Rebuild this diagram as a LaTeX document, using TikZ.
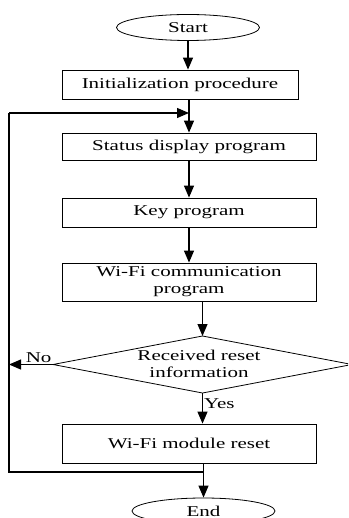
\documentclass[tikz,border=0pt]{standalone}
\usepackage{fontspec}
\setmainfont{Liberation Serif}[FakeStretch=1.4]
\usetikzlibrary{shapes.geometric,arrows.meta}

\tikzset{
  txt/.style={font=\fontsize{15pt}{17pt}\selectfont},
  procbox/.style={draw,rectangle,txt,align=center,inner sep=0pt,line width=0.8pt,minimum width=254pt},
  termbox/.style={draw,ellipse,txt,inner sep=0pt,line width=0.8pt,minimum width=143pt,minimum height=26pt},
  flow/.style={-{Triangle[length=12pt,width=10pt]},line width=1.1pt},
  loopline/.style={line width=1.1pt}
}

\begin{document}
\begin{tikzpicture}[x=1pt,y=-1pt]
\useasboundingbox (0,0) rectangle (348,518);
\clip (0,0) rectangle (348,518);

\node[termbox] (start) at (188,27.5) {Start};
\node[procbox,minimum width=236pt,minimum height=29pt] (init) at (180,84.5) {Initialization procedure};
\node[procbox,minimum height=27pt] (status) at (189,146.5) {Status display program};
\node[procbox,minimum height=29pt] (key) at (189,212.5) {Key program};
\node[procbox,minimum height=38pt] (wifi) at (189,282) {Wi-Fi communication\\program};
\node[procbox,minimum height=39pt] (reset) at (189,443.5) {Wi-Fi module reset};
\node[termbox] (end) at (203.5,511) {End};

% decision diamond
\coordinate (dn) at (202.5,336);
\coordinate (ds) at (202.5,393);
\coordinate (dw) at (53,364.5);
\coordinate (de) at (352,364.5);
\draw[line width=0.8pt] (dn) -- (de) -- (ds) -- (dw) -- cycle;
\node[txt,align=center] (dec) at (199,364) {Received reset\\information};

\coordinate (lp) at (9,113);
\coordinate (lb) at (9,472);

\draw[flow] (start.south) -- (start.south |- init.north);
\draw[flow] (init.south -| status.north) -- (status.north);
\draw[flow] (status) -- (key);
\draw[flow] (key) -- (wifi);
\draw[flow] (wifi.south -| dn) -- (dn);
\draw[flow] (ds) -- (ds |- reset.north) node[txt,pos=0.35,right,inner sep=1pt] {Yes};
\draw[flow] (reset.south -| end.north) -- (end.north);
\draw[flow] (dw) -- (dw -| lp) node[txt,pos=0,above left,inner sep=1pt] {No};

% loop back to the display
\draw[loopline] (lb -| end.north) -- (lb) -- (lp);
\draw[flow] (lp) -- (lp -| status.north);
\end{tikzpicture}
\end{document}
